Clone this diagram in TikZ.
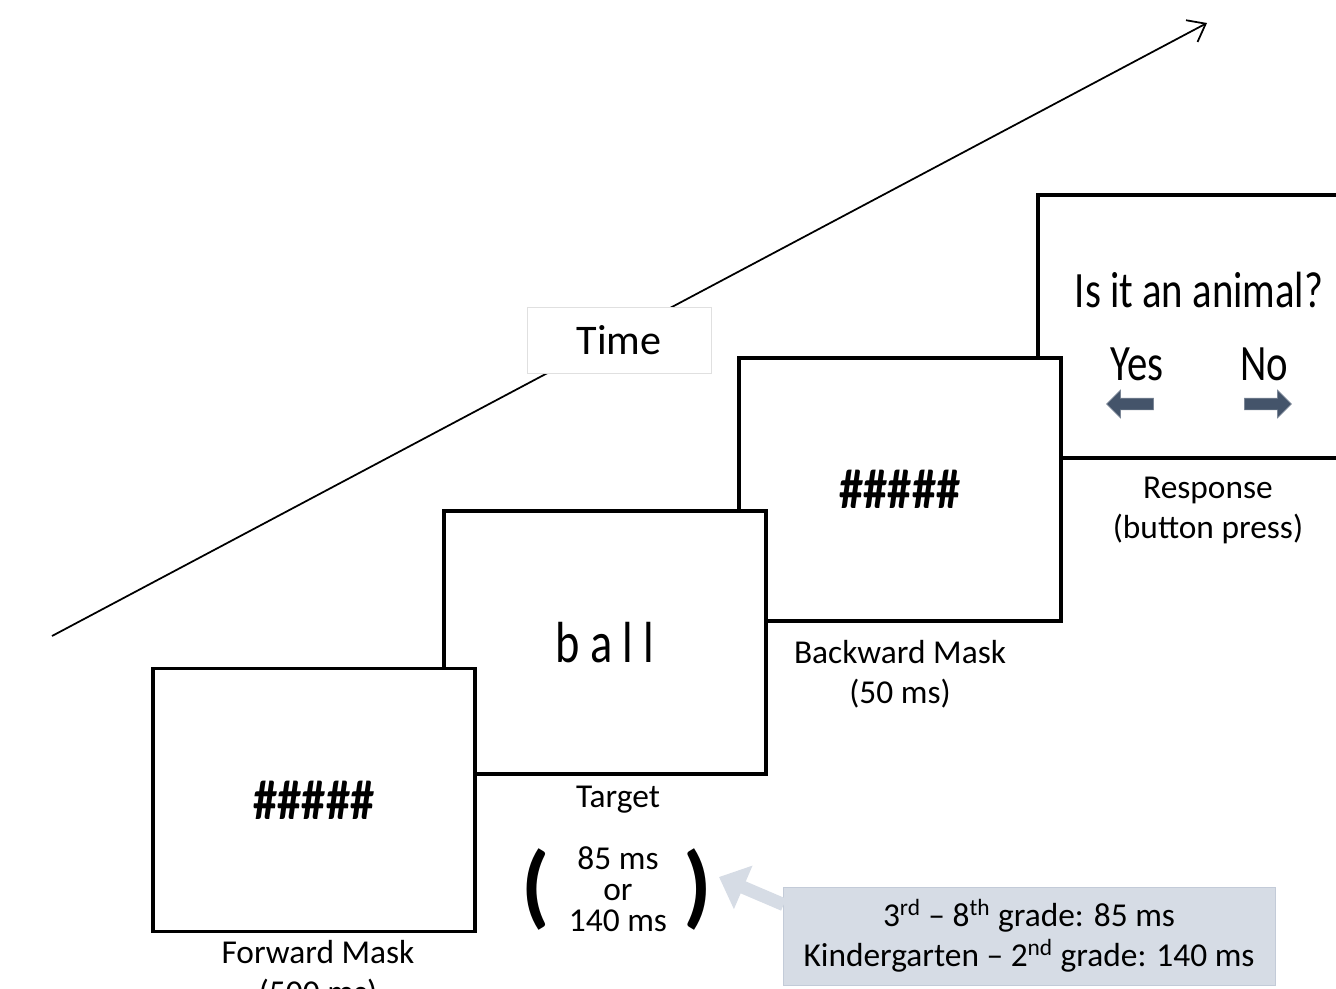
\documentclass[tikz,border=0pt]{standalone}
\usepackage{fontspec}
\setmainfont{Carlito}
\newfontfamily\narrowfont[FakeStretch=0.8]{Carlito}
\newfontfamily\hashfont[FakeStretch=0.86]{Carlito}
\usetikzlibrary{arrows.meta, positioning, shapes.arrows}
\definecolor{slate}{HTML}{44546A}
\definecolor{notebg}{HTML}{D6DCE5}
\definecolor{noteedge}{HTML}{C3CBD8}

\begin{document}
\begin{tikzpicture}[
  x=0.02cm, y=-0.02cm,
  screen/.style={draw=black, fill=white, line width=1.8pt,
                 minimum width=6.44cm, minimum height=5.26cm, inner sep=0pt},
  lbl/.style={font=\fontsize{19}{22.7}\selectfont, align=center, inner sep=0pt},
  hashes/.style={font=\hashfont\bfseries\fontsize{32}{32}\selectfont},
  keyarrow/.style={single arrow, fill=slate, draw=slate!70, line width=0.4pt,
                   minimum height=0.94cm, inner sep=0.11cm,
                   single arrow head extend=0.16cm, single arrow head indent=0pt},
  timeline/.style={line width=1pt, -{Straight Barb[length=9pt, width=14pt, line width=1pt]}},
  callout/.style={line width=7.4pt, color=notebg,
                  -{Triangle[length=15pt, width=26pt]}}
]
  \useasboundingbox (0,0) rectangle (1336,988);
  \clip (0,0) rectangle (1336,988);

  % Time axis
  \coordinate (t0) at (52,636);
  \coordinate (t1) at (1207,23);
  \draw[timeline] (t0) -- (t1);
  \node[draw=black!12, fill=white, minimum width=3.68cm, minimum height=1.32cm,
        font=\fontsize{24}{24}\selectfont] (time) at (619,340) {Time};

  % Screens, back to front
  \node[screen] (resp) at (1199,326.5) {};
  \node[screen] (bwd) at (900,489.5) {};
  \node[screen] (tgt) at (605,642.5) {};
  \node[screen] (fwd) at (314,800) {};

  % Screen contents
  \node[hashes] (fwdtxt) at (fwd) {\#\#\#\#\#};
  \node[hashes] (bwdtxt) at (bwd) {\#\#\#\#\#};
  \node[font=\narrowfont\fontsize{33}{33}\selectfont] (word) at (tgt) {b a l l};
  \node[font=\narrowfont\fontsize{29}{29}\selectfont] (question) at (1199,290) {Is it an animal?};
  \node[font=\narrowfont\fontsize{29}{29}\selectfont] (yes) at (1137,364) {Yes};
  \node[font=\narrowfont\fontsize{29}{29}\selectfont] (no) at (1264,364) {No};
  \node[keyarrow, shape border rotate=180] (yesarr) at (1133,404) {};
  \node[keyarrow] (noarr) at (1265,404) {};

  % Labels under the screens
  \node[lbl, below=4pt of fwd, xshift=0.08cm] (fwdlbl) {Forward Mask\\(500 ms)};
  \node[lbl, below=6pt of tgt, xshift=0.26cm] (tgtlbl) {Target};
  \node[lbl, below=10pt of bwd] (bwdlbl) {Backward Mask\\(50 ms)};
  \node[lbl, below=10pt of resp, xshift=0.18cm] (resplbl) {Response\\(button press)};

  % Target duration
  \node[lbl, font=\fontsize{19}{17.6}\selectfont] (dur) at (618,889) {85 ms\\or\\140 ms};
  \node[inner sep=0pt, font=\bfseries\fontsize{52}{52}\selectfont, left=0.36cm of dur] (lpar) {(};
  \node[inner sep=0pt, font=\bfseries\fontsize{52}{52}\selectfont, right=0.32cm of dur] (rpar) {)};

  % Grade note
  \coordinate (tip) at (719,877);
  \node[fill=notebg, draw=noteedge, line width=0.4pt, minimum width=9.84cm,
        minimum height=1.96cm, align=center, font=\fontsize{19}{23}\selectfont]
    (note) at (1029,936)
    {3\textsuperscript{rd} -- 8\textsuperscript{th} grade: 85 ms\\
     Kindergarten -- 2\textsuperscript{nd} grade: 140 ms};
  \draw[callout] (note.north west) ++(1,18) -- (tip);
\end{tikzpicture}
\end{document}
